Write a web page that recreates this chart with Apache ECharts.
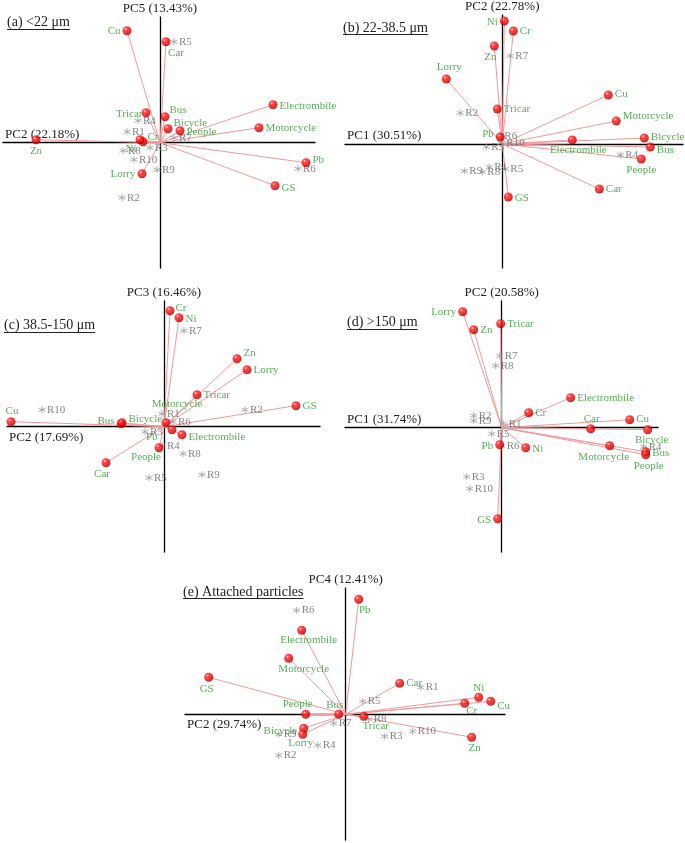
<!DOCTYPE html>
<html><head><meta charset="utf-8">
<script src="https://cdn.jsdelivr.net/npm/echarts@6/dist/echarts.min.js"></script>
<style>html,body{margin:0;padding:0;background:#fff}#c{width:685px;height:843px}</style>
</head><body><div id="c"></div>
<script>
// ---------- DATA ----------
const variables = ['Cr','Ni','Cu','Zn','Pb','GS','Car','Bus','Bicycle','Motorcycle','Electrombile','Tricar','Lorry','People'];
const samples = ['R1','R2','R3','R4','R5','R6','R7','R8','R9','R10'];
const panelTitles = ['(a) <22 μm','(b) 22-38.5 μm','(c) 38.5-150 μm','(d) >150 μm','(e) Attached particles'];
const xAxisNames = ['PC2 (22.18%)','PC1 (30.51%)','PC2 (17.69%)','PC1 (31.74%)','PC2 (29.74%)'];
const yAxisNames = ['PC5 (13.43%)','PC2 (22.78%)','PC3 (16.46%)','PC2 (20.58%)','PC4 (12.41%)'];

// variable loadings [x, y] in order of `variables`
const loadingsA = [[-0.17,0.01],[-0.20,0.03],[-0.33,1.12],[-1.24,0.03],[1.46,-0.20],[1.15,-0.43],[0.06,1.01],[0.05,0.26],[0.08,0.14],[0.99,0.15],[1.13,0.38],[-0.14,0.30],[-0.18,-0.31],[0.20,0.12]];
const loadingsB = [[0.11,1.13],[0.02,1.23],[1.06,0.49],[-0.08,0.98],[-0.02,0.07],[0.06,-0.53],[0.97,-0.45],[1.48,-0.03],[1.42,0.06],[1.14,0.23],[0.70,0.04],[-0.05,0.35],[-0.56,0.65],[1.39,-0.15]];
const loadingsC = [[0.06,1.16],[0.15,1.09],[-1.53,0.05],[0.73,0.68],[0.08,-0.03],[1.32,0.21],[-0.58,-0.36],[-0.43,0.03],[-0.42,0.04],[0.02,0.04],[0.18,-0.08],[0.33,0.32],[0.83,0.57],[-0.05,-0.21]];
const loadingsD = [[0.27,0.15],[0.24,-0.20],[1.28,0.08],[-0.28,0.98],[-0.02,-0.17],[-0.04,-0.91],[0.89,-0.01],[1.44,-0.24],[1.46,-0.02],[1.08,-0.18],[0.69,0.30],[-0.01,1.04],[-0.39,1.16],[1.44,-0.27]];
const loadingsE = [[1.19,0.11],[1.33,0.17],[1.45,0.13],[1.26,-0.23],[0.13,1.15],[-1.37,0.37],[0.54,0.31],[-0.07,0.00],[-0.42,-0.14],[-0.57,0.56],[-0.44,0.84],[0.18,-0.02],[-0.43,-0.20],[-0.40,0.00]];

// sample scores [x, y] in order of `samples`
const scoresA = [[-0.33,0.11],[-0.38,-0.55],[-0.10,-0.05],[-0.22,0.22],[0.14,1.01],[1.38,-0.26],[0.14,0.05],[-0.37,-0.08],[-0.03,-0.27],[-0.26,-0.17]];
const scoresB = [[-0.13,-0.23],[-0.42,0.31],[-0.16,-0.03],[1.18,-0.11],[0.03,-0.25],[-0.03,0.08],[0.08,0.88],[-0.20,-0.28],[-0.38,-0.27],[-0.01,0.01]];
const scoresC = [[-0.02,0.13],[0.81,0.17],[-0.19,-0.05],[-0.02,-0.19],[-0.15,-0.51],[0.09,0.05],[0.20,0.96],[0.19,-0.27],[0.38,-0.48],[-1.22,0.17]];
const scoresD = [[0.02,0.04],[-0.28,0.12],[-0.35,-0.49],[1.42,-0.19],[-0.10,-0.06],[0.00,-0.18],[-0.02,0.72],[-0.06,0.62],[-0.28,0.07],[-0.32,-0.61]];
const scoresE = [[0.75,0.27],[-0.67,-0.41],[0.39,-0.22],[-0.28,-0.31],[0.17,0.13],[-0.49,1.04],[-0.12,-0.09],[0.23,-0.05],[-0.67,-0.20],[0.67,-0.17]];

// ---------- LAYOUT / STYLE ----------
const layout = [
  {l:3,   r:315, t:17,  b:268, ox:160,   oy:142.7, tx:7,   ty:23.3,  ul:29.5,  below:false},
  {l:345, r:683, t:15,  b:268, ox:502.3, oy:144,   tx:343, ty:29.3,  ul:34.5,  below:false},
  {l:7,   r:320, t:301, b:552, ox:164,   oy:426.7, tx:4,   ty:326.7, ul:332.5, below:true},
  {l:345, r:658, t:301, b:552, ox:501.7, oy:427.7, tx:347, ty:323.3, ul:329.5, below:false},
  {l:185, r:505, t:588, b:840, ox:345.7, oy:714.3, tx:183, ty:593.3, ul:598.5, below:true}
];
const SCALE = 100;
// label placement per variable (order of `variables`): [side, dx, dy]
const labelPos = [
  [['r',-2,-5],['l',3,9],['l',0,0],['b',0,0],['r',0,-3],['r',0,2],['b',10,0],['r',-2,-7],['r',-1,-6],['r',0,0],['r',0,1],['l',3,1],['l',0,0],['r',0,1]],
  [['r',0,0],['l',0,1],['r',0,-1],['b',-4,0],['l',0,-3],['r',0,1],['r',0,0],['r',0,3],['r',0,-1],['r',0,-5],['b',6,-1],['r',0,0],['t',3,-1],['b',0,0]],
  [['r',-1,-3],['r',0,1],['t',1,0],['r',0,-6],['l',-8,7],['r',0,0],['b',-4,0],['l',0,-3],['r',0,-4],['t',11,-8],['r',0,2],['r',0,0],['r',0,0],['b',-13,-2]],
  [['r',0,0],['r',0,1],['r',0,-1],['r',0,0],['l',0,1],['l',0,1],['t',1,1],['r',0,1],['b',4,-1],['b',-6,0],['r',0,0],['r',0,0],['l',0,0],['b',3,0]],
  [['b',7,-3],['t',0,2],['r',0,5],['b',3,0],['b',6,0],['b',-2,1],['r',0,0],['t',-4,2],['l',0,3],['b',15,0],['b',7,-1],['b',12,-1],['b',-2,-2],['t',-8,1]]
];
const FONT = '"Liberation Serif","Times New Roman",serif';
const GREEN = '#2f982f';
const sideMap = {r:'right', l:'left', t:'top', b:'bottom'};

const loadings = [loadingsA, loadingsB, loadingsC, loadingsD, loadingsE];
const scores = [scoresA, scoresB, scoresC, scoresD, scoresE];

const ctx = document.createElement('canvas').getContext('2d');
ctx.font = '14px ' + FONT;

const ballColor = new echarts.graphic.RadialGradient(0.35, 0.32, 0.7, [
  {offset:0, color:'#ffd0d0'},
  {offset:0.25, color:'#ff2020'},
  {offset:0.75, color:'#e00000'},
  {offset:1, color:'#a00000'}
]);
const asterisk = 'path://M0,-5L0,5M-4.33,-2.5L4.33,2.5M-4.33,2.5L4.33,-2.5';

const grids = [], xAxes = [], yAxes = [], series = [], graphics = [];
layout.forEach((g, i) => {
  grids.push({left:g.l, top:g.t, width:g.r-g.l, height:g.b-g.t, containLabel:false});
  const common = {
    gridIndex:i, type:'value',
    axisTick:{show:false}, axisLabel:{show:false}, splitLine:{show:false},
    axisLine:{show:true, onZero:true, lineStyle:{color:'#000', width:1.3}}
  };
  xAxes.push(Object.assign({}, common, {
    min:(g.l-g.ox)/SCALE, max:(g.r-g.ox)/SCALE,
    name:xAxisNames[i], nameLocation:'start', nameGap:-2,
    nameTextStyle:{fontFamily:FONT, fontSize:13, color:'#222',
      align:'left', verticalAlign:g.below?'top':'bottom',
      padding:g.below?[4,0,0,0]:[0,0,2,0]}
  }));
  yAxes.push(Object.assign({}, common, {
    min:(g.oy-g.b)/SCALE, max:(g.oy-g.t)/SCALE,
    name:yAxisNames[i], nameLocation:'end', nameGap:2,
    nameTextStyle:{fontFamily:FONT, fontSize:13, color:'#222'}
  }));
  // arrows from origin
  series.push({
    type:'lines', coordinateSystem:'cartesian2d', xAxisIndex:i, yAxisIndex:i,
    silent:true, z:2,
    lineStyle:{color:'#f29a9a', width:1, opacity:1},
    data: loadings[i].map(p => ({coords:[[0,0],[p[0],p[1]]]}))
  });
  // samples
  series.push({
    type:'scatter', xAxisIndex:i, yAxisIndex:i, silent:true, z:3,
    symbol:asterisk, symbolSize:7,
    itemStyle:{color:'rgba(0,0,0,0)', borderColor:'#9a9a9a', borderWidth:1},
    label:{show:true, position:'right', distance:1, formatter:'{b}',
      fontFamily:FONT, fontSize:11, color:'#666'},
    data: scores[i].map((p, k) => ({name:samples[k], value:p}))
  });
  // variables
  series.push({
    type:'scatter', xAxisIndex:i, yAxisIndex:i, silent:true, z:4,
    symbol:'circle', symbolSize:9,
    itemStyle:{color:ballColor},
    label:{show:true, formatter:'{b}', fontFamily:FONT, fontSize:11, color:GREEN},
    data: loadings[i].map((p, k) => {
      const lp = labelPos[i][k];
      const s = sideMap[lp[0]];
      return {name:variables[k], value:p,
        label:{position:s, distance:(s==='top'||s==='bottom')?1:2, offset:[lp[1], lp[2]]}};
    })
  });
  // panel title with underline
  const w = ctx.measureText(panelTitles[i]).width;
  graphics.push({type:'text', left:g.tx, top:g.ty-8, z:10,
    style:{text:panelTitles[i], font:'14px '+FONT, fill:'#222'}});
  graphics.push({type:'line', z:10,
    shape:{x1:g.tx, y1:g.ul, x2:g.tx+w, y2:g.ul}, style:{stroke:'#222', lineWidth:1}});
});

const chart = echarts.init(document.getElementById('c'), null, {renderer:'canvas'});
chart.setOption({
  backgroundColor:'#fff', animation:false,
  grid:grids, xAxis:xAxes, yAxis:yAxes, series:series, graphic:graphics
});
</script></body></html>
